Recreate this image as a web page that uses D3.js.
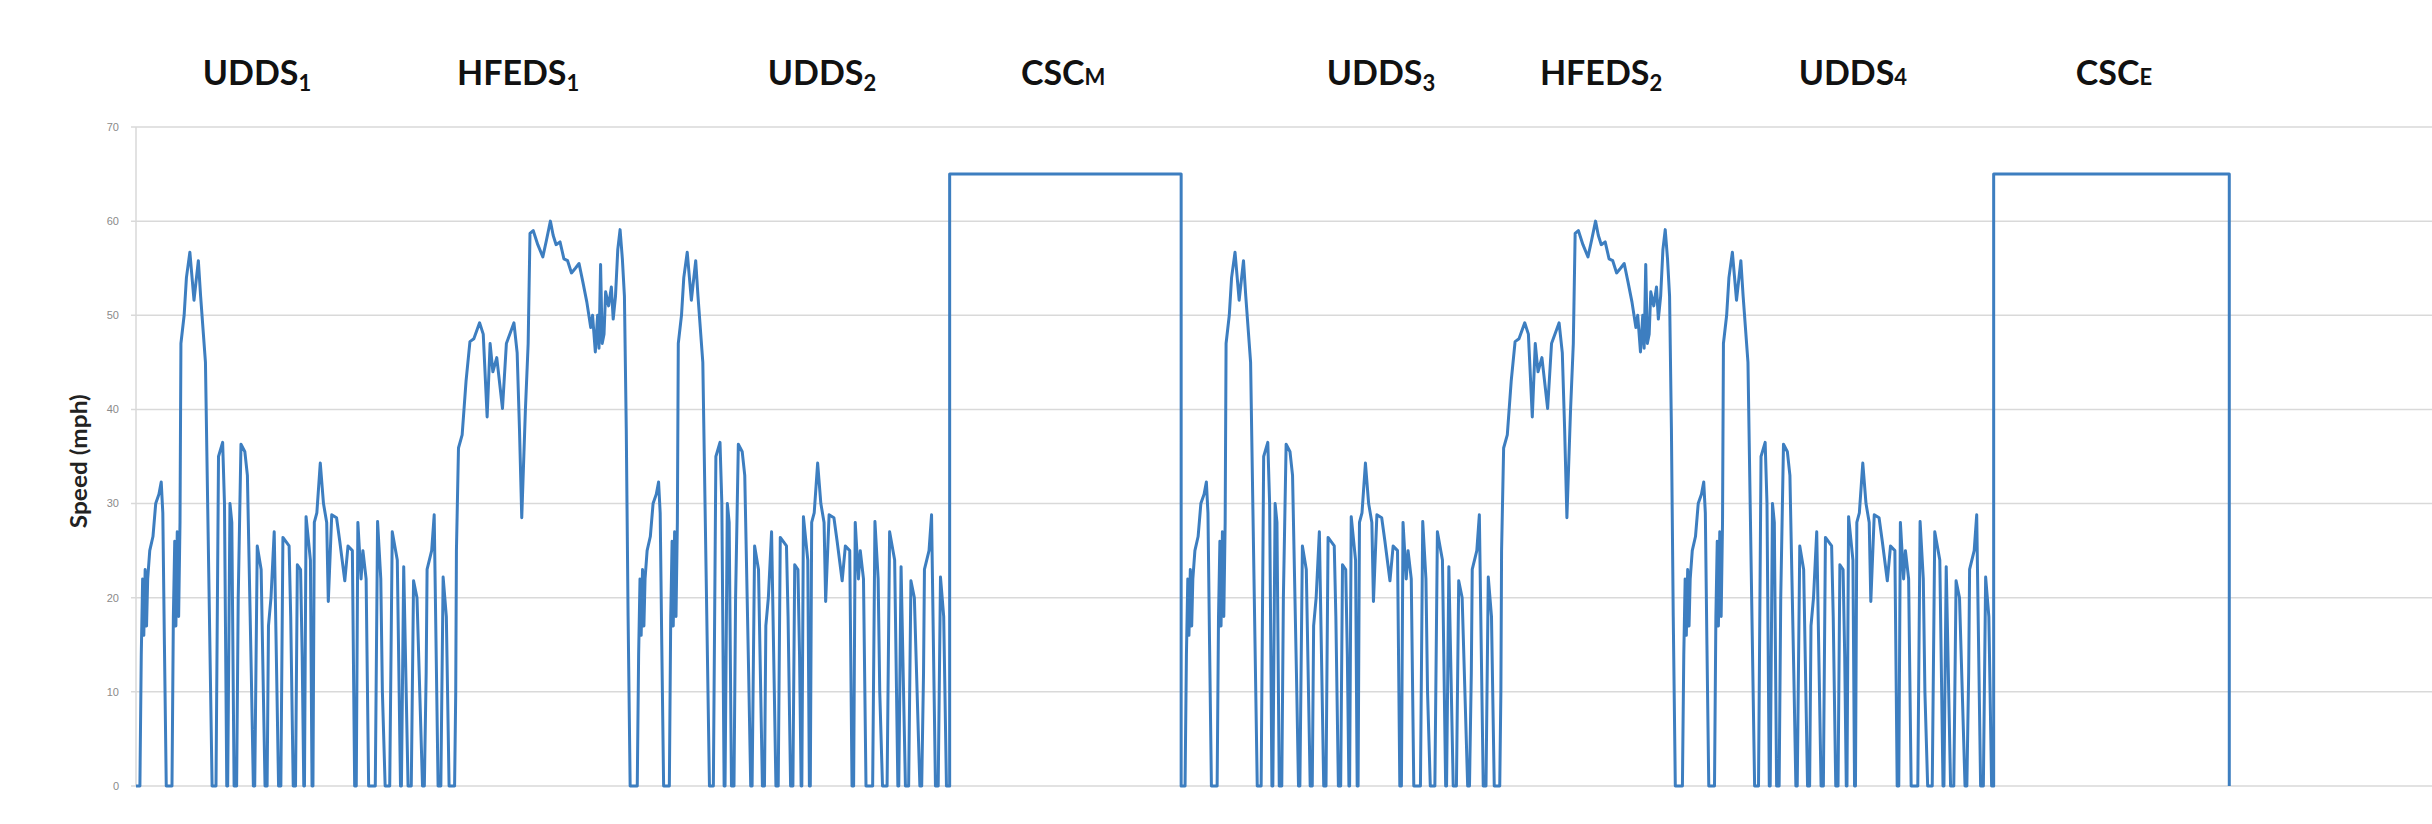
<!DOCTYPE html>
<html><head><meta charset="utf-8">
<script src="https://cdn.jsdelivr.net/npm/d3@7"></script>
<style>html,body{margin:0;padding:0;background:#fff;}svg{display:block;}</style>
</head><body>
<svg id="chart" width="2432" height="824"></svg>
<script>
// ---- data ----
// UDDS speed trace (s, mph)
const uddsT = [0,17,23,29,34,40,46,51,60,74,86,100,110,117,124,132,157,163,169,174,180,186,192,196,210,220,235,253,272,282,303,332,349,360,378,386,396,400,410,418,428,439,446,458,475,486,503,512,518,529,546,563,572,578,589,603,615,622,632,641,668,675,686,696,704,718,725,732,735,742,761,768,772,778,789,804,818,832,839,854,875,889,911,925,944,954,961,968,982,990,1004,1015,1044,1054,1068,1075,1087,1107,1118,1140,1154,1158,1168,1187,1201,1211,1226,1250,1258,1266,1270,1290,1301,1318,1330,1340,1354,1366,1369];
const uddsV = [0,0,14,22,16,23,17,22,25,26.5,30,31,32.3,29,15,0,0,18,26,17,27,18,28,47,50,54,56.7,51.6,55.8,52,45,0,0,35,36.5,30,0,0,30,28,0,0,20,36.3,35.5,33,12,0,0,25.5,23,0,0,17,20,27,10,0,0,26.4,25.5,18,0,0,23.5,23,14,0,0,28.6,24,0,0,28,29,34.3,30,28,19.6,28.8,28.5,26,21.8,25.5,25,0,0,28,22,25,22,0,0,28.1,22,10,0,0,27,24,0,0,23.3,0,0,21.8,20,0,0,12,23,25,28.8,0,0,22.2,18,0,0];
// HFEDS speed trace (s, mph)
const hfedsT = [0,5,8,17,33,50,67,84,109,125,142,155,167,184,209,226,259,273,283,293,309,321,329,343,363,385,401,418,430,443,460,477,493,510,527,543,560,577,594,602,614,624,630,637,644,652,659,672,684,692,702,712,722,732,741,749,757,766];
const hfedsV = [0,10,25,35.9,37.3,43,47.2,47.5,49.2,48,39.2,47,44,45.5,40.1,47,49.2,46,38,28.5,40,47,58.7,59,57.5,56.2,58,60,58.5,57.5,57.8,56,55.8,54.5,55,55.5,53.5,51.4,48.7,50,46.1,50,46.5,55.4,47,48,52.5,51,53,49.6,52,57,59.1,56,52,38,18,0];
// test sequence
const segNames  = ["UDDS","HFEDS","UDDS","CSC","UDDS","HFEDS","UDDS","CSC"];
const segStart  = [0, 1390, 2170, 3550, 4560, 5950, 6730, 8105];
const cscSpeed  = 65;
const cscLength = [1010, 1028];
// labels
const labelMain = ["UDDS","HFEDS","UDDS","CSC","UDDS","HFEDS","UDDS","CSC"];
const labelSub  = ["1","1","2","M","3","2","4","E"];
const labelSubLowered = [true,true,true,false,true,true,false,false];
const yTicks = [0,10,20,30,40,50,60,70];

// ---- layout ----
const labelT = [528, 1667, 2993, 4045, 5432, 6392, 7491, 8630]; // label centres on the time axis
const svg = d3.select("#chart");
const x = d3.scaleLinear().domain([0, 10000]).range([136, 2428]);
const y = d3.scaleLinear().domain([0, 70]).range([786, 127]);

// build series
const pts = [];
let cscI = 0;
segNames.forEach((name, i) => {
  const s = segStart[i];
  if (name === "UDDS") uddsT.forEach((t, k) => pts.push([s + t, uddsV[k]]));
  else if (name === "HFEDS") hfedsT.forEach((t, k) => pts.push([s + t, hfedsV[k]]));
  else {
    const e = s + cscLength[cscI++];
    pts.push([s, 0], [s, cscSpeed], [e, cscSpeed], [e, 0]);
  }
});

// grid
svg.append("g").selectAll("line").data(yTicks).join("line")
  .attr("x1", 131).attr("x2", 2432)
  .attr("y1", d => y(d)).attr("y2", d => y(d))
  .attr("stroke", "#d9d9d9").attr("stroke-width", 1.5);
svg.append("line").attr("x1", 136).attr("x2", 136).attr("y1", y(70)).attr("y2", y(0))
  .attr("stroke", "#d9d9d9").attr("stroke-width", 1.5);

// y tick labels
svg.append("g").selectAll("text").data(yTicks).join("text")
  .attr("x", 119).attr("y", d => y(d)).attr("dy", "0.35em")
  .attr("text-anchor", "end").attr("font-family", "Liberation Sans, Arial, sans-serif")
  .attr("font-size", 11).attr("fill", "#8a8a8a").text(d => d);

// y title
svg.append("text").attr("transform", `translate(87,${y(34.5)}) rotate(-90)`)
  .attr("text-anchor", "middle").attr("font-family", "Lato, sans-serif").attr("font-weight", "bold")
  .attr("font-size", 22).attr("textLength", 134).attr("lengthAdjust", "spacingAndGlyphs")
  .attr("fill", "#222").text("Speed (mph)");

// trace
svg.append("path").datum(pts)
  .attr("d", d3.line().x(d => x(d[0])).y(d => y(d[1])))
  .attr("fill", "none").attr("stroke", "#3d7ec0").attr("stroke-width", 3)
  .attr("stroke-linejoin", "round");

// segment labels
const lab = svg.append("g").attr("font-family", "Lato, sans-serif").attr("font-weight", "bold")
  .attr("font-size", 34).attr("fill", "#111");
labelMain.forEach((m, i) => {
  const t = lab.append("text").attr("x", x(labelT[i])).attr("y", 85).attr("text-anchor", "middle");
  t.append("tspan").text(m);
  t.append("tspan").attr("font-size", 22).attr("dy", labelSubLowered[i] ? 6 : 0).text(labelSub[i]);
});
</script>
</body></html>
